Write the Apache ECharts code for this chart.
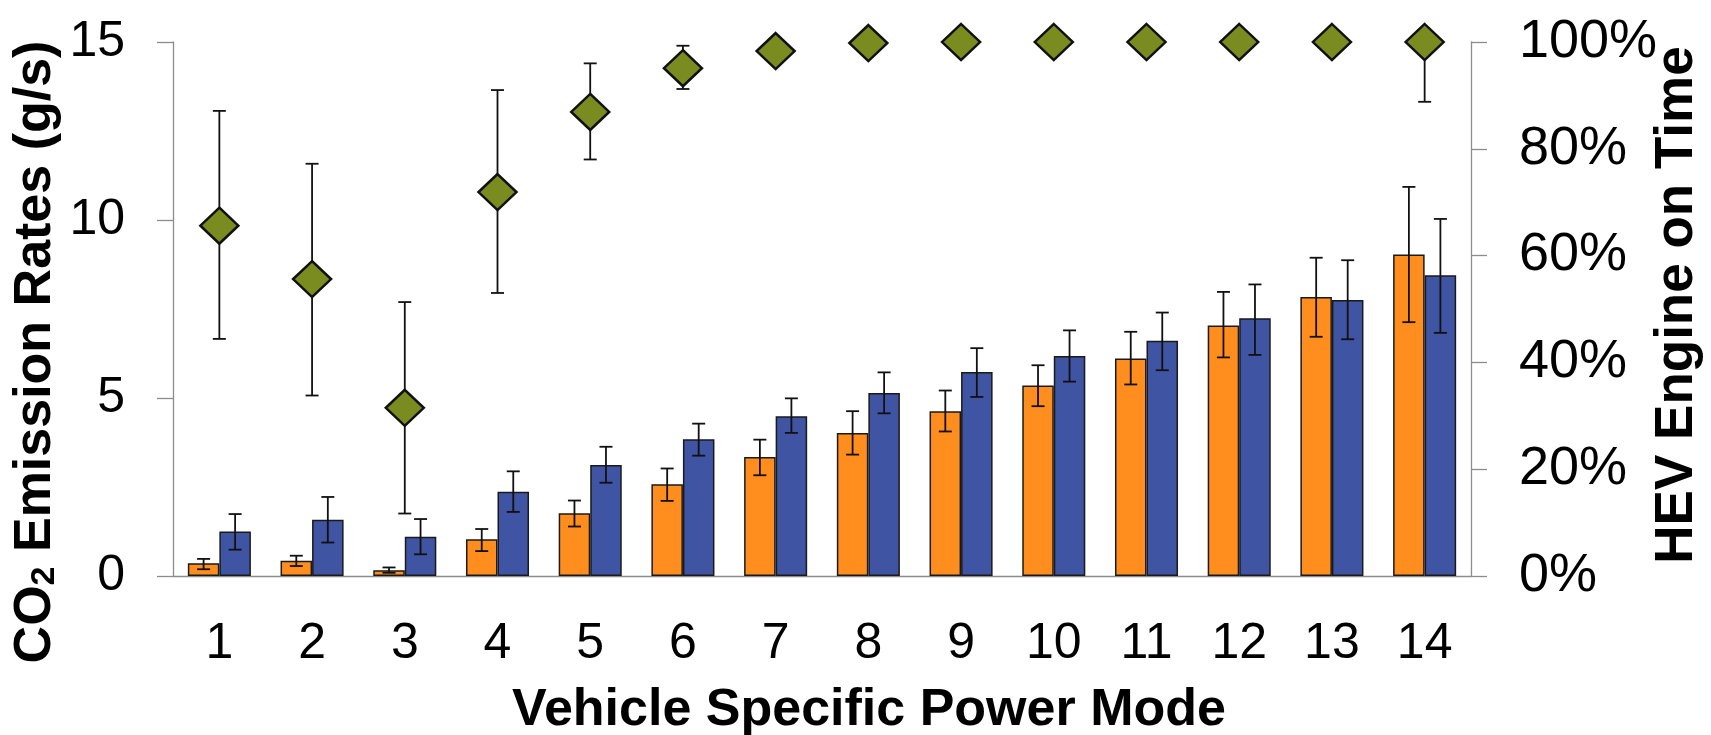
<!DOCTYPE html>
<html>
<head>
<meta charset="utf-8">
<title>CO2 Emission Rates by VSP Mode</title>
<script src="https://cdn.jsdelivr.net/npm/echarts@6/dist/echarts.min.js"></script>
<style>
  html, body { margin: 0; padding: 0; background: #fff; }
  #chart { width: 1711px; height: 735px; }
</style>
</head>
<body>
<div id="chart"></div>
<script>
// Vehicle Specific Power modes
const vspModes = ['1', '2', '3', '4', '5', '6', '7', '8', '9', '10', '11', '12', '13', '14'];

// HEV CO2 emission rate (g/s) with error-bar bounds
const hevRate = [0.36, 0.43, 0.16, 1.03, 1.76, 2.58, 3.34, 4.02, 4.63, 5.35, 6.11, 7.04, 7.84, 9.03];
const hevLow  = [0.19, 0.28, 0.09, 0.70, 1.39, 2.11, 2.83, 3.41, 4.06, 4.77, 5.38, 6.14, 6.72, 7.13];
const hevHigh = [0.48, 0.57, 0.24, 1.32, 2.12, 3.02, 3.83, 4.63, 5.21, 5.92, 6.86, 7.98, 8.94, 10.93];

// Conventional vehicle CO2 emission rate (g/s) with error-bar bounds
const cvRate = [1.25, 1.58, 1.10, 2.37, 3.12, 3.84, 4.49, 5.14, 5.73, 6.18, 6.61, 7.24, 7.75, 8.45];
const cvLow  = [0.74, 0.94, 0.61, 1.80, 2.62, 3.38, 4.02, 4.57, 5.03, 5.46, 5.78, 6.21, 6.65, 6.83];
const cvHigh = [1.74, 2.22, 1.60, 2.94, 3.63, 4.28, 4.99, 5.72, 6.40, 6.90, 7.40, 8.19, 8.87, 10.03];

// HEV engine-on time (%) with error-bar bounds
const engineOn     = [65.6, 55.6, 31.5, 71.9, 86.9, 95.1, 98.3, 99.8, 100, 100, 100, 100, 100, 100];
const engineOnLow  = [44.4, 33.8, 11.7, 53.0, 78.0, 91.2, 96.8, 99.4, 99.6, 99.6, 99.6, 99.6, 99.6, 88.8];
const engineOnHigh = [87.1, 77.2, 51.3, 91.0, 96.0, 99.3, 99.6, 100, 100, 100, 100, 100, 100, 100];

// Tick labels
const rateTicks = [0, 5, 10, 15];
const pctTicks = [0, 20, 40, 60, 80, 100];

const FONT = '"Liberation Sans", Arial, sans-serif';
const BAR_SHARE = 0.68;   // share of each category taken by the bar pair
const CAP = 13;           // error-bar cap width (px)

function errRows(low, high) {
  return low.map((lo, i) => [i, lo, high[i]]);
}

// Draws a vertical error bar with caps; shift = -1 left bar, +1 right bar, 0 centred
function errorBar(shift) {
  return function (params, api) {
    const idx = api.value(0);
    const cw = api.size([1, 0])[0];
    const x = api.coord([idx, 0])[0] + shift * cw * BAR_SHARE / 4;
    const yLo = api.coord([idx, api.value(1)])[1];
    const yHi = api.coord([idx, api.value(2)])[1];
    const style = { stroke: '#111', lineWidth: 1.8 };
    return {
      type: 'group',
      children: [
        { type: 'line', shape: { x1: x, y1: yLo, x2: x, y2: yHi }, style },
        { type: 'line', shape: { x1: x - CAP / 2, y1: yHi, x2: x + CAP / 2, y2: yHi }, style },
        { type: 'line', shape: { x1: x - CAP / 2, y1: yLo, x2: x + CAP / 2, y2: yLo }, style }
      ]
    };
  };
}

const chart = echarts.init(document.getElementById('chart'), null, { renderer: 'canvas' });

const axisLine = { show: true, lineStyle: { color: '#8c8c8c', width: 1.3 } };
const axisTick = { show: true, inside: false, length: 16, lineStyle: { color: '#8c8c8c', width: 1.3 } };
const titleFont = { fontFamily: FONT, fontSize: 52, fontWeight: 'bold', fill: '#000' };

chart.setOption({
  animation: false,
  backgroundColor: '#ffffff',
  grid: { left: 173, right: 240, top: 42, bottom: 159, containLabel: false },
  xAxis: {
    type: 'category',
    data: vspModes,
    axisLine: { show: true, onZero: false, lineStyle: { color: '#8c8c8c', width: 1.3 } },
    axisTick: { show: false },
    axisLabel: { color: '#000', fontFamily: FONT, fontSize: 50, margin: 43 }
  },
  yAxis: [
    {
      type: 'value',
      min: rateTicks[0],
      max: rateTicks[rateTicks.length - 1],
      interval: 5,
      axisLine, axisTick,
      splitLine: { show: false },
      axisLabel: { color: '#000', fontFamily: FONT, fontSize: 50, margin: 48 }
    },
    {
      type: 'value',
      position: 'right',
      min: pctTicks[0],
      max: pctTicks[pctTicks.length - 1],
      interval: 20,
      axisLine, axisTick,
      splitLine: { show: false },
      axisLabel: { color: '#000', fontFamily: FONT, fontSize: 54, margin: 48, formatter: '{value}%' }
    }
  ],
  graphic: [
    {
      // left axis title with subscript
      type: 'text',
      x: 36,
      y: 352,
      rotation: Math.PI / 2,
      style: {
        text: '{b|CO}{s|2}{b| Emission Rates (g/s)}',
        align: 'center',
        verticalAlign: 'middle',
        fill: '#000',
        rich: {
          b: { fontFamily: FONT, fontSize: 52, fontWeight: 'bold', lineHeight: 52, fill: '#000' },
          s: { fontFamily: FONT, fontSize: 34, fontWeight: 'bold', lineHeight: 20, verticalAlign: 'bottom', fill: '#000' }
        }
      }
    },
    {
      // right axis title
      type: 'text',
      x: 1677,
      y: 305,
      rotation: Math.PI / 2,
      style: Object.assign({ text: 'HEV Engine on Time', align: 'center', verticalAlign: 'middle' }, titleFont, { fontSize: 53 })
    },
    {
      // category axis title
      type: 'text',
      x: 869,
      y: 711,
      style: Object.assign({ text: 'Vehicle Specific Power Mode', align: 'center', verticalAlign: 'middle' }, titleFont)
    }
  ],
  series: [
    {
      name: 'HEV',
      type: 'bar',
      data: hevRate,
      barGap: '0%',
      barCategoryGap: ((1 - BAR_SHARE) * 100) + '%',
      itemStyle: { color: '#FF8E1E', borderColor: '#1a1a1a', borderWidth: 1.5 },
      z: 2
    },
    {
      name: 'CV',
      type: 'bar',
      data: cvRate,
      itemStyle: { color: '#3F54A3', borderColor: '#1a1a1a', borderWidth: 1.5 },
      z: 2
    },
    {
      name: 'HEV error',
      type: 'custom',
      renderItem: errorBar(-1),
      data: errRows(hevLow, hevHigh),
      encode: { x: 0, y: [1, 2] },
      z: 3
    },
    {
      name: 'CV error',
      type: 'custom',
      renderItem: errorBar(1),
      data: errRows(cvLow, cvHigh),
      encode: { x: 0, y: [1, 2] },
      z: 3
    },
    {
      name: 'Engine on error',
      type: 'custom',
      yAxisIndex: 1,
      renderItem: errorBar(0),
      data: errRows(engineOnLow, engineOnHigh),
      encode: { x: 0, y: [1, 2] },
      z: 4
    },
    {
      name: 'Engine on time',
      type: 'scatter',
      yAxisIndex: 1,
      data: engineOn,
      symbol: 'diamond',
      symbolSize: [38, 36],
      itemStyle: { color: '#7A8B1F', borderColor: '#111', borderWidth: 2.5, opacity: 1 },
      z: 5
    }
  ]
});
</script>
</body>
</html>
